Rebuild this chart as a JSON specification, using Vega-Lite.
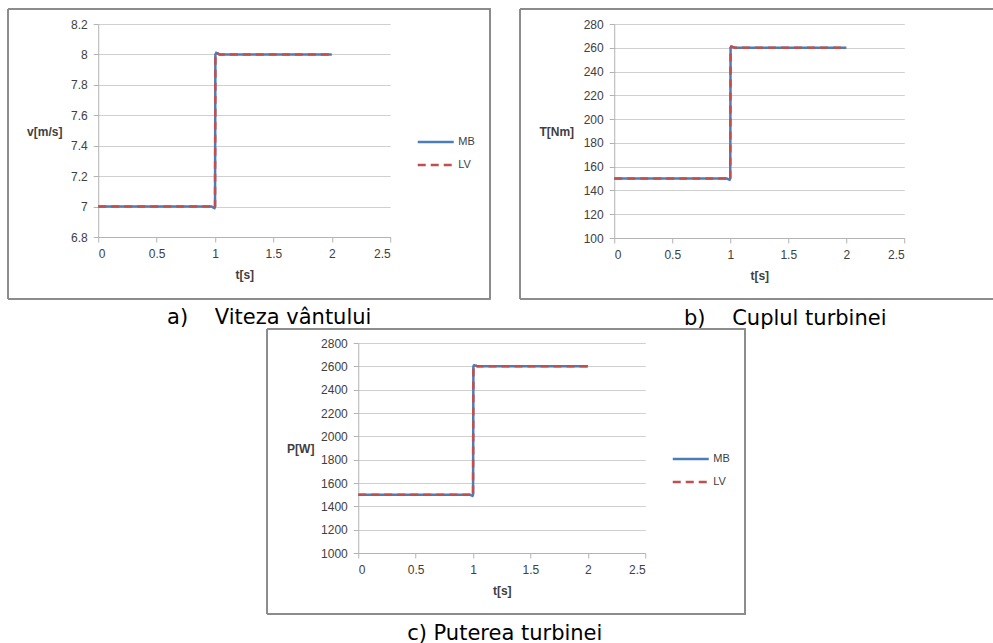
{
  "$schema": "https://vega.github.io/schema/vega-lite/v6.json",
  "padding": {"left": 7, "top": 8, "right": 0, "bottom": 0},
  "background": "white",
  "datasets": {
    "v": [
      {"t": 0, "val": 7, "series": "MB"}, {"t": 0.97, "val": 7, "series": "MB"}, {"t": 0.995, "val": 6.99, "series": "MB"}, {"t": 1.0, "val": 7.0, "series": "MB"}, {"t": 1.003, "val": 8.0, "series": "MB"}, {"t": 1.01, "val": 8.01, "series": "MB"}, {"t": 1.04, "val": 8, "series": "MB"}, {"t": 2, "val": 8, "series": "MB"},
      {"t": 0, "val": 7, "series": "LV"}, {"t": 0.97, "val": 7, "series": "LV"}, {"t": 0.995, "val": 6.99, "series": "LV"}, {"t": 1.0, "val": 7.0, "series": "LV"}, {"t": 1.003, "val": 8.0, "series": "LV"}, {"t": 1.01, "val": 8.01, "series": "LV"}, {"t": 1.04, "val": 8, "series": "LV"}, {"t": 2, "val": 8, "series": "LV"}
    ],
    "T": [
      {"t": 0, "val": 150, "series": "MB"}, {"t": 0.97, "val": 150, "series": "MB"}, {"t": 0.995, "val": 149, "series": "MB"}, {"t": 1.0, "val": 150, "series": "MB"}, {"t": 1.003, "val": 260, "series": "MB"}, {"t": 1.01, "val": 261, "series": "MB"}, {"t": 1.04, "val": 260, "series": "MB"}, {"t": 2, "val": 260, "series": "MB"},
      {"t": 0, "val": 150, "series": "LV"}, {"t": 0.97, "val": 150, "series": "LV"}, {"t": 0.995, "val": 149, "series": "LV"}, {"t": 1.0, "val": 150, "series": "LV"}, {"t": 1.003, "val": 260, "series": "LV"}, {"t": 1.01, "val": 261, "series": "LV"}, {"t": 1.04, "val": 260, "series": "LV"}, {"t": 2, "val": 260, "series": "LV"}
    ],
    "P": [
      {"t": 0, "val": 1500, "series": "MB"}, {"t": 0.97, "val": 1500, "series": "MB"}, {"t": 0.995, "val": 1490, "series": "MB"}, {"t": 1.0, "val": 1500, "series": "MB"}, {"t": 1.003, "val": 2600, "series": "MB"}, {"t": 1.01, "val": 2610, "series": "MB"}, {"t": 1.04, "val": 2600, "series": "MB"}, {"t": 2, "val": 2600, "series": "MB"},
      {"t": 0, "val": 1500, "series": "LV"}, {"t": 0.97, "val": 1500, "series": "LV"}, {"t": 0.995, "val": 1490, "series": "LV"}, {"t": 1.0, "val": 1500, "series": "LV"}, {"t": 1.003, "val": 2600, "series": "LV"}, {"t": 1.01, "val": 2610, "series": "LV"}, {"t": 1.04, "val": 2600, "series": "LV"}, {"t": 2, "val": 2600, "series": "LV"}
    ]
  },
  "vconcat": [
    {
      "hconcat": [
        {
          "width": 292, "height": 213,
          "title": {"text": "a)\u00a0\u00a0\u00a0 Viteza vântului", "orient": "bottom", "anchor": "middle", "frame": "group", "dx": 25, "offset": 8},
          "data": {"name": "v"},
          "layer": [
            {
              "mark": {"type": "line", "strokeWidth": 2.5},
              "encoding": {
                "x": {"field": "t", "type": "quantitative", "scale": {"domain": [0, 2.5], "nice": false, "zero": false},
                      "axis": {"values": [0, 0.5, 1, 1.5, 2, 2.5], "tickCount": 20, "format": ".1~f", "title": "t[s]", "titleY": 37, "titleBaseline": "middle"}},
                "y": {"field": "val", "type": "quantitative", "scale": {"domain": [6.8, 8.2], "nice": false, "zero": false},
                      "axis": {"values": [6.8, 7, 7.2, 7.4, 7.6, 7.8, 8, 8.2], "tickCount": 20, "format": ".1~f", "title": "v[m/s]", "titleAngle": 0, "titleX": -54, "titleY": 107, "titleAlign": "center", "titleBaseline": "middle"}},
                "color": {"field": "series", "type": "nominal", "scale": {"domain": ["MB", "LV"], "range": ["#4A7EBB", "#C0504D"]},
                          "legend": {"title": null, "orient": "none", "legendX": 318, "legendY": 112}},
                "strokeDash": {"field": "series", "type": "nominal", "scale": {"domain": ["MB", "LV"], "range": [[1, 0], [8, 5]]},
                               "legend": {"title": null, "orient": "none", "legendX": 318, "legendY": 112}}
              }
            },
            {
              "mark": {"type": "rect", "fill": "transparent", "stroke": "#8c8c8c", "strokeWidth": 1, "clip": false},
              "encoding": {
                "x": {"datum": -0.7705, "type": "quantitative"},
                "x2": {"datum": 3.356},
                "y": {"datum": 8.2986, "type": "quantitative"},
                "y2": {"datum": 6.3925}
              }
            }
          ]
        },
        {
          "width": 290, "height": 214,
          "title": {"text": "b)\u00a0\u00a0\u00a0 Cuplul turbinei", "orient": "bottom", "anchor": "middle", "frame": "group", "dx": 26, "offset": 8},
          "data": {"name": "T"},
          "layer": [
            {
              "mark": {"type": "line", "strokeWidth": 2.5},
              "encoding": {
                "x": {"field": "t", "type": "quantitative", "scale": {"domain": [0, 2.5], "nice": false, "zero": false},
                      "axis": {"values": [0, 0.5, 1, 1.5, 2, 2.5], "tickCount": 20, "format": ".1~f", "title": "t[s]", "titleY": 37, "titleBaseline": "middle"}},
                "y": {"field": "val", "type": "quantitative", "scale": {"domain": [100, 280], "nice": false, "zero": false},
                      "axis": {"values": [100, 120, 140, 160, 180, 200, 220, 240, 260, 280], "tickCount": 20, "title": "T[Nm]", "titleAngle": 0, "titleX": -58, "titleY": 107, "titleAlign": "center", "titleBaseline": "middle"}},
                "color": {"field": "series", "type": "nominal", "scale": {"domain": ["MB", "LV"], "range": ["#4A7EBB", "#C0504D"]},
                          "legend": {"title": null, "orient": "none", "legendX": 316, "legendY": 111}},
                "strokeDash": {"field": "series", "type": "nominal", "scale": {"domain": ["MB", "LV"], "range": [[1, 0], [8, 5]]},
                               "legend": {"title": null, "orient": "none", "legendX": 316, "legendY": 111}}
              }
            },
            {
              "mark": {"type": "rect", "fill": "transparent", "stroke": "#8c8c8c", "strokeWidth": 1, "clip": false},
              "encoding": {
                "x": {"datum": -0.8103, "type": "quantitative"},
                "x2": {"datum": 3.371},
                "y": {"datum": 292.6, "type": "quantitative"},
                "y2": {"datum": 48.69}
              }
            }
          ]
        }
      ],
      "spacing": 28
    },
    {
      "width": 287, "height": 210,
      "title": {"text": "c) Puterea turbinei", "orient": "bottom", "anchor": "middle", "frame": "group", "dx": 3, "offset": 8},
      "data": {"name": "P"},
      "layer": [
        {
          "mark": {"type": "line", "strokeWidth": 2.5},
          "encoding": {
            "x": {"field": "t", "type": "quantitative", "scale": {"domain": [0, 2.5], "nice": false, "zero": false},
                  "axis": {"values": [0, 0.5, 1, 1.5, 2, 2.5], "tickCount": 20, "format": ".1~f", "title": "t[s]", "titleY": 37, "titleBaseline": "middle"}},
            "y": {"field": "val", "type": "quantitative", "scale": {"domain": [1000, 2800], "nice": false, "zero": false},
                  "axis": {"values": [1000, 1200, 1400, 1600, 1800, 2000, 2200, 2400, 2600, 2800], "tickCount": 20, "format": "d", "title": "P[W]", "titleAngle": 0, "titleX": -58, "titleY": 105, "titleAlign": "center", "titleBaseline": "middle"}},
            "color": {"field": "series", "type": "nominal", "scale": {"domain": ["MB", "LV"], "range": ["#4A7EBB", "#C0504D"]},
                      "legend": {"title": null, "orient": "none", "legendX": 313, "legendY": 110}},
            "strokeDash": {"field": "series", "type": "nominal", "scale": {"domain": ["MB", "LV"], "range": [[1, 0], [8, 5]]},
                           "legend": {"title": null, "orient": "none", "legendX": 313, "legendY": 110}}
          }
        },
        {
          "mark": {"type": "rect", "fill": "transparent", "stroke": "#8c8c8c", "strokeWidth": 1, "clip": false},
          "encoding": {
            "x": {"datum": -0.7927, "type": "quantitative"},
            "x2": {"datum": 3.371},
            "y": {"datum": 2920, "type": "quantitative"},
            "y2": {"datum": 477}
          }
        }
      ]
    }
  ],
  "spacing": -1,
  "center": true,
  "resolve": {
    "scale": {"x": "independent", "y": "independent", "color": "independent", "strokeDash": "independent"},
    "axis": {"x": "independent", "y": "independent"},
    "legend": {"color": "independent", "strokeDash": "independent"}
  },
  "config": {
    "font": "Liberation Sans",
    "view": {"stroke": null},
    "axis": {
      "labelFont": "Liberation Sans", "labelFontSize": 12, "labelColor": "#404040", "labelPadding": 6, "labelOverlap": false,
      "titleFont": "Liberation Sans", "titleFontSize": 12, "titleFontWeight": "bold", "titleColor": "#404040",
      "domainColor": "#b3b3b3", "tickColor": "#b3b3b3", "gridColor": "#d0d0d0", "tickSize": 5, "grid": true
    },
    "axisX": {"grid": false},
    "legend": {
      "symbolType": "stroke", "symbolSize": 1296, "symbolStrokeWidth": 2.5, "labelFont": "Liberation Sans",
      "labelFontSize": 11, "labelColor": "#404040", "labelOffset": 3, "clipHeight": 12, "rowPadding": 11, "padding": 0
    },
    "title": {"font": "DejaVu Sans", "fontSize": 21, "fontWeight": "normal", "color": "#000000"}
  }
}
